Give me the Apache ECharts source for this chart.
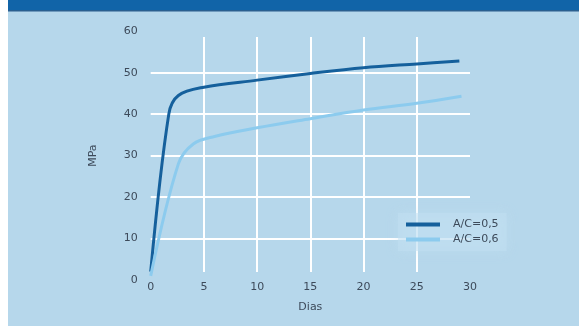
<!DOCTYPE html>
<html>
<head>
<meta charset="utf-8">
<script src="https://cdn.jsdelivr.net/npm/echarts@6/dist/echarts.min.js"></script>
<style>
  html, body { margin: 0; padding: 0; background: #ffffff; }
  #chart { width: 579px; height: 326px; }
</style>
</head>
<body>
<div id="chart"></div>
<script>
// Compressive strength development (MPa) against age (days)
const seriesNames = ['A/C=0,5', 'A/C=0,6'];

const daysAC05 = [0, 1.7, 2.6, 5, 10, 15, 20, 25, 29];
const mpaAC05  = [2, 40, 44.5, 46.5, 48.2, 49.8, 51.2, 52.1, 52.8];

const daysAC06 = [0, 2.6, 4, 6, 10, 15, 20, 25, 29.2];
const mpaAC06  = [1, 28, 32.8, 34.6, 36.7, 38.9, 41, 42.6, 44.3];

const xTicks = [0, 5, 10, 15, 20, 25, 30];
const yTicks = [0, 10, 20, 30, 40, 50, 60];

const xAxisTitle = 'Dias';
const yAxisTitle = 'MPa';

const pairs = (xs, ys) => xs.map((x, i) => [x, ys[i]]);

const textColor = '#3d4a5a';
const font = 'DejaVu Sans';

const chart = echarts.init(document.getElementById('chart'), null, { renderer: 'canvas' });

chart.setOption({
  animation: false,
  backgroundColor: '#ffffff',
  textStyle: { fontFamily: font },
  graphic: [
    { type: 'rect', z: -10, shape: { x: 8, y: 0, width: 571, height: 326 }, style: { fill: '#b6d7eb' } },
    { type: 'rect', z: -9, shape: { x: 8, y: 0, width: 571, height: 10 }, style: { fill: '#1164a8' } },
    { type: 'rect', z: -9, shape: { x: 8, y: 10, width: 571, height: 1.5 }, style: { fill: '#2a5f8f' } }
  ],
  grid: [
    { left: 150.7, right: 109, top: 31.2, bottom: 46 },
    { left: 150.7, right: 109, top: 37, bottom: 54 }
  ],
  xAxis: [
    {
      gridIndex: 0, type: 'value', min: xTicks[0], max: xTicks[xTicks.length - 1],
      interval: xTicks[1] - xTicks[0],
      name: xAxisTitle, nameLocation: 'middle', nameGap: 22,
      nameTextStyle: { color: textColor, fontSize: 11, fontFamily: font },
      axisLine: { show: false }, axisTick: { show: false },
      axisLabel: { color: textColor, fontSize: 11, fontFamily: font, margin: 2 },
      splitLine: { show: false }
    },
    {
      gridIndex: 1, type: 'value', min: xTicks[0], max: xTicks[xTicks.length - 1],
      interval: xTicks[1] - xTicks[0],
      axisLine: { show: false }, axisTick: { show: false }, axisLabel: { show: false },
      splitLine: { show: true, showMinLine: false, showMaxLine: false, lineStyle: { color: '#ffffff', width: 2 } }
    }
  ],
  yAxis: [
    {
      gridIndex: 0, type: 'value', min: yTicks[0], max: yTicks[yTicks.length - 1],
      interval: yTicks[1] - yTicks[0],
      name: yAxisTitle, nameLocation: 'middle', nameGap: 52, nameRotate: 90,
      nameTextStyle: { color: textColor, fontSize: 11, fontFamily: font },
      axisLine: { show: false }, axisTick: { show: false },
      axisLabel: { color: textColor, fontSize: 11, fontFamily: font, margin: 13 },
      splitLine: { show: true, showMinLine: false, showMaxLine: false, lineStyle: { color: '#ffffff', width: 2 } }
    },
    {
      gridIndex: 1, type: 'value', min: 0, max: 60, show: false
    }
  ],
  legend: {
    orient: 'vertical',
    left: 398, top: 213,
    itemWidth: 34, itemHeight: 4, itemGap: 4,
    padding: [6, 8, 6, 8],
    backgroundColor: 'rgba(194,224,242,0.5)',
    shadowColor: 'rgba(194,224,242,0.8)', shadowBlur: 12,
    icon: 'rect',
    textStyle: { color: textColor, fontSize: 11, fontFamily: font, padding: [0, 0, 0, 8] },
    data: seriesNames
  },
  series: [
    {
      name: seriesNames[0], type: 'line', xAxisIndex: 0, yAxisIndex: 0,
      smooth: 0.35, showSymbol: false, symbol: 'none',
      color: '#15609c',
      lineStyle: { color: '#15609c', width: 3 },
      data: pairs(daysAC05, mpaAC05)
    },
    {
      name: seriesNames[1], type: 'line', xAxisIndex: 0, yAxisIndex: 0,
      smooth: 0.35, showSymbol: false, symbol: 'none',
      color: '#8ccbee',
      lineStyle: { color: '#8ccbee', width: 3 },
      data: pairs(daysAC06, mpaAC06)
    }
  ]
});
</script>
</body>
</html>
